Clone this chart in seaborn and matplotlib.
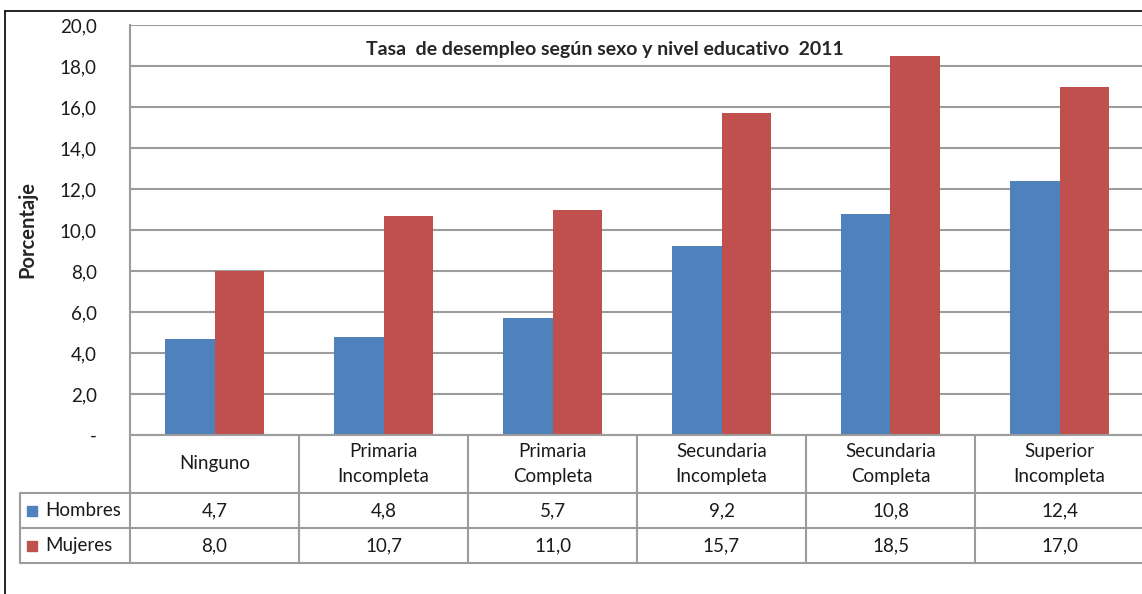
import pandas as pd
import matplotlib.pyplot as plt
import matplotlib.transforms as mtransforms
from matplotlib.lines import Line2D
from matplotlib.patches import Rectangle
import seaborn as sns

# Datos
niveles = ["Ninguno", "Primaria\nIncompleta", "Primaria\nCompleta",
           "Secundaria\nIncompleta", "Secundaria\nCompleta", "Superior\nIncompleta"]
hombres = [4.7, 4.8, 5.7, 9.2, 10.8, 12.4]
mujeres = [8.0, 10.7, 11.0, 15.7, 18.5, 17.0]
series = ["Hombres", "Mujeres"]
colores = ["#4F81BD", "#C0504D"]
yticks = [0, 2, 4, 6, 8, 10, 12, 14, 16, 18, 20]

df = pd.DataFrame({
    "nivel": niveles * 2,
    "sexo": ["Hombres"] * len(niveles) + ["Mujeres"] * len(niveles),
    "valor": hombres + mujeres,
})

sns.set_style("white")
plt.rcParams["font.family"] = ["Lato", "DejaVu Sans"]

W, H = 1142, 594
fig = plt.figure(figsize=(W / 100, H / 100), dpi=100)
# area del grafico en pixeles: x 130..1144, y 25..435
ax = fig.add_axes([130 / W, 1 - 435 / H, 1014 / W, 410 / H])

sns.barplot(data=df, x="nivel", y="valor", hue="sexo", order=niveles,
            hue_order=series, palette=colores, width=0.58, saturation=1,
            edgecolor="none", legend=False, ax=ax)

grid = "#9c9c9c"
fs = 13.5
ax.set_ylim(0, 20)
ax.set_xlim(-0.5, len(niveles) - 0.5)
ax.set_yticks(yticks)
ax.set_yticklabels(["-" if v == 0 else f"{v:.1f}".replace(".", ",") for v in yticks],
                   fontsize=fs, color="#1a1a1a")
ax.tick_params(axis="y", length=0, pad=24)
ax.set_xticks([])
ax.set_xlabel("")
ax.set_ylabel("Porcentaje", fontsize=14.5, fontweight="bold", labelpad=0)
ax.yaxis.set_label_coords(-93 / 1014, 0.5)
ax.grid(axis="y", color=grid, linewidth=1.5)
ax.set_axisbelow(True)
for s in ["top", "right", "bottom"]:
    ax.spines[s].set_visible(False)
ax.spines["left"].set_color(grid)
ax.spines["left"].set_linewidth(1.5)

ax.text(0.468, 0.94, "Tasa  de desempleo según sexo y nivel educativo  2011",
        transform=ax.transAxes, ha="center", va="center",
        fontsize=14, fontweight="bold")

# tabla de datos bajo el grafico
tr = mtransforms.blended_transform_factory(ax.transData, ax.transAxes)
px = 410.0
unit = 1014 / len(niveles)
y0 = 0
y1 = -(493 - 435) / px
y2 = -(528 - 435) / px
y3 = -(563 - 435) / px
xl = -0.5 - (130 - 20) / unit
xr = len(niveles) - 0.5
kw = dict(transform=tr, color=grid, linewidth=1.5, clip_on=False)
ax.add_line(Line2D([-0.5, xr], [y0, y0], **kw))
for yy in [y1, y2, y3]:
    ax.add_line(Line2D([xl, xr], [yy, yy], **kw))
ax.add_line(Line2D([xl, xl], [y1, y3], **kw))
for i in range(len(niveles) + 1):
    ax.add_line(Line2D([i - 0.5, i - 0.5], [y0, y3], **kw))

for i, nombre in enumerate(niveles):
    ax.text(i, (y0 + y1) / 2, nombre, transform=tr, ha="center", va="center",
            fontsize=fs, linespacing=1.55, color="#1a1a1a")
    ax.text(i, (y1 + y2) / 2, f"{hombres[i]:.1f}".replace(".", ","), transform=tr,
            ha="center", va="center", fontsize=fs, color="#1a1a1a")
    ax.text(i, (y2 + y3) / 2, f"{mujeres[i]:.1f}".replace(".", ","), transform=tr,
            ha="center", va="center", fontsize=fs, color="#1a1a1a")

key = (10 / unit)
for yy, nombre, c in [((y1 + y2) / 2, series[0], colores[0]),
                      ((y2 + y3) / 2, series[1], colores[1])]:
    ax.add_patch(Rectangle((xl + 7 / unit, yy - 5 / px), key, 10 / px,
                           transform=tr, color=c, clip_on=False))
    ax.text(xl + 25 / unit, yy, nombre, transform=tr, ha="left", va="center",
            fontsize=fs, color="#1a1a1a")

# marco exterior
fig.add_artist(Line2D([5 / W, 5 / W], [0, 1 - 11 / H], color="black", linewidth=1.2))
fig.add_artist(Line2D([5 / W, 1], [1 - 11 / H, 1 - 11 / H], color="black", linewidth=1.2))

fig.savefig("out.png", dpi=100)
